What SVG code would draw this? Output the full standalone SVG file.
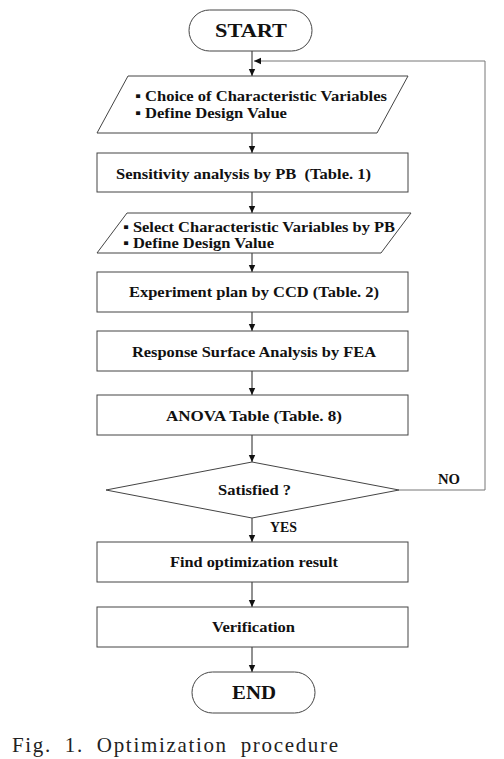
<svg xmlns="http://www.w3.org/2000/svg" width="504" height="759" viewBox="0 0 504 759">
<style>
.shape{fill:#fff;stroke:#444;stroke-width:1}
.t{font-family:"Liberation Serif","Times New Roman",serif;font-weight:bold;font-size:15px;fill:#111}
.tc{text-anchor:middle}
.big{font-size:19px}
.conn{stroke:#222;stroke-width:1;fill:none}
.fb{stroke:#777;stroke-width:1;fill:none}
.cap{font-family:"Liberation Serif","Times New Roman",serif;font-size:21px;fill:#222}
</style>
<defs>
<marker id="ah" markerWidth="8" markerHeight="8" refX="7" refY="4" orient="auto" markerUnits="userSpaceOnUse">
<path d="M0,0.8 L7,4 L0,7.2 Z" fill="#111"/>
</marker>
</defs>
<rect width="504" height="759" fill="#fff"/>
<g id="connectors">
<line class="conn" x1="252" y1="51" x2="252" y2="76" marker-end="url(#ah)"/>
<line class="conn" x1="252" y1="133" x2="252" y2="153" marker-end="url(#ah)"/>
<line class="conn" x1="252" y1="192" x2="252" y2="213" marker-end="url(#ah)"/>
<line class="conn" x1="252" y1="253" x2="252" y2="272" marker-end="url(#ah)"/>
<line class="conn" x1="252" y1="312" x2="252" y2="331" marker-end="url(#ah)"/>
<line class="conn" x1="252" y1="371" x2="252" y2="395" marker-end="url(#ah)"/>
<line class="conn" x1="252" y1="435" x2="252" y2="462" marker-end="url(#ah)"/>
<line class="conn" x1="252" y1="518" x2="252" y2="542" marker-end="url(#ah)"/>
<line class="conn" x1="252" y1="582" x2="252" y2="607" marker-end="url(#ah)"/>
<line class="conn" x1="252" y1="647" x2="252" y2="672" marker-end="url(#ah)"/>
<polyline class="fb" points="399,490 485,490 485,61 254,61" marker-end="url(#ah)"/>
<text class="t" x="438" y="484" font-size="12" textLength="22" lengthAdjust="spacingAndGlyphs">NO</text>
<text class="t" x="270" y="532" font-size="12" textLength="27" lengthAdjust="spacingAndGlyphs">YES</text>
</g>
<g id="start">
<rect class="shape" x="189" y="10" width="123" height="41" rx="20.5"/>
<text class="t tc big" x="251" y="37" textLength="72" lengthAdjust="spacingAndGlyphs">START</text>
</g>
<g id="input1">
<polygon class="shape" points="128,76 408,76 377,133 97,133"/>
<text class="t" x="135" y="101" textLength="252" lengthAdjust="spacingAndGlyphs">▪ Choice of Characteristic Variables</text>
<text class="t" x="135" y="118" textLength="152" lengthAdjust="spacingAndGlyphs">▪ Define Design Value</text>
</g>
<g id="sensitivity">
<rect class="shape" x="97" y="153" width="311" height="39"/>
<text class="t" x="116" y="179" textLength="255" lengthAdjust="spacingAndGlyphs">Sensitivity analysis by PB &#160;(Table. 1)</text>
</g>
<g id="input2">
<polygon class="shape" points="127,213 411,213 381,253 97,253"/>
<text class="t" x="123" y="232" textLength="272" lengthAdjust="spacingAndGlyphs">▪ Select Characteristic Variables by PB</text>
<text class="t" x="123" y="248" textLength="151" lengthAdjust="spacingAndGlyphs">▪ Define Design Value</text>
</g>
<g id="experiment">
<rect class="shape" x="97" y="272" width="311" height="40"/>
<text class="t" x="129" y="297" textLength="250" lengthAdjust="spacingAndGlyphs">Experiment plan by CCD (Table. 2)</text>
</g>
<g id="response">
<rect class="shape" x="97" y="331" width="311" height="40"/>
<text class="t" x="132" y="357" textLength="244" lengthAdjust="spacingAndGlyphs">Response Surface Analysis by FEA</text>
</g>
<g id="anova">
<rect class="shape" x="97" y="395" width="311" height="40"/>
<text class="t" x="166" y="421" textLength="176" lengthAdjust="spacingAndGlyphs">ANOVA Table (Table. 8)</text>
</g>
<g id="decision">
<polygon class="shape" points="252,462 399,490 252,518 106,490"/>
<text class="t" x="218" y="495" textLength="73" lengthAdjust="spacingAndGlyphs">Satisfied ?</text>
</g>
<g id="result">
<rect class="shape" x="97" y="542" width="311" height="40"/>
<text class="t" x="170" y="567" textLength="168" lengthAdjust="spacingAndGlyphs">Find optimization result</text>
</g>
<g id="verification">
<rect class="shape" x="97" y="607" width="311" height="40"/>
<text class="t" x="212" y="632" textLength="83" lengthAdjust="spacingAndGlyphs">Verification</text>
</g>
<g id="end">
<rect class="shape" x="192" y="672" width="123" height="41" rx="20.5"/>
<text class="t big" x="232" y="699" textLength="44" lengthAdjust="spacingAndGlyphs">END</text>
</g>
<text class="cap" x="12" y="752" textLength="326" lengthAdjust="spacing" word-spacing="6">Fig. 1. Optimization procedure</text>
</svg>
